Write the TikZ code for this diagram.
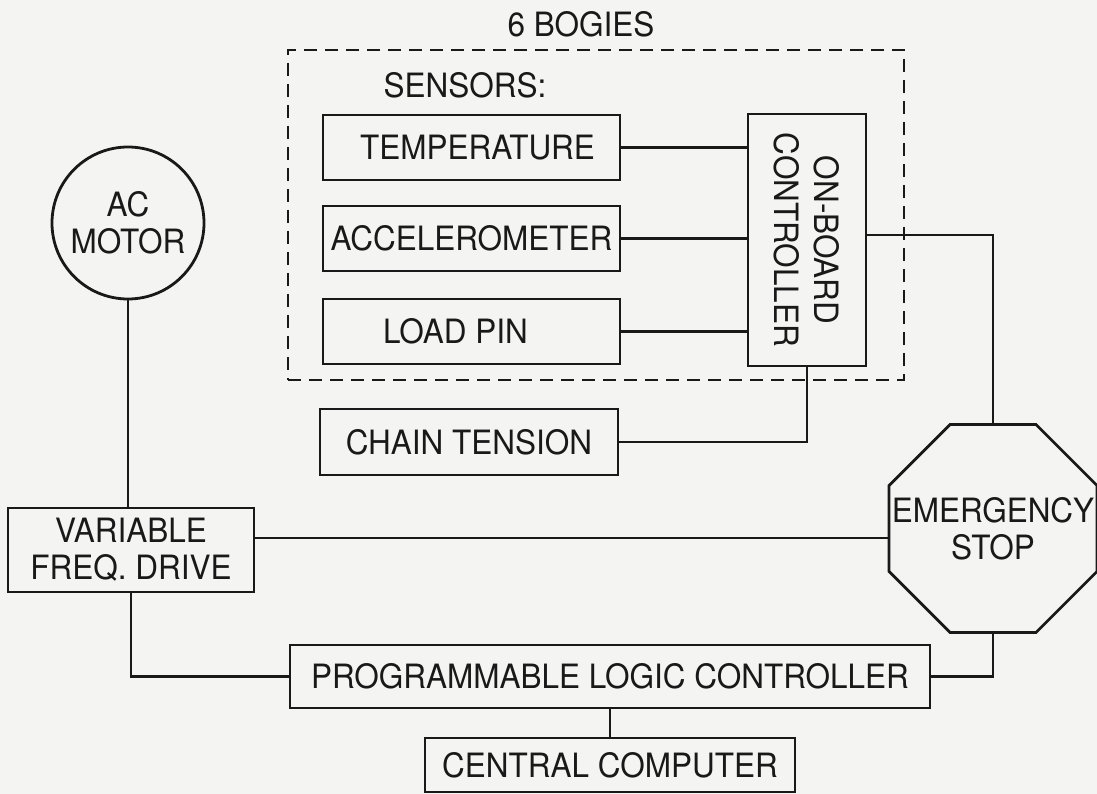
\documentclass[tikz,border=0pt]{standalone}
\usepackage{fontspec}
\setmainfont{TeX Gyre Heros}[FakeStretch=0.94]
\usetikzlibrary{shapes.geometric}
\definecolor{paper}{RGB}{244,244,242}
\definecolor{ink}{RGB}{25,25,25}
\begin{document}
\begin{tikzpicture}[x=1pt,y=-1pt,
  every node/.style={font=\fontsize{33.5}{37}\selectfont, text=ink},
  box/.style={draw=ink, line width=2.8pt, inner sep=0pt, rectangle, align=center},
  wire/.style={draw=ink, line width=2.8pt},
  groupbox/.style={draw=ink, line width=2.8pt, dash pattern=on 13pt off 8pt, inner sep=0pt, rectangle},
  octa/.style={draw=ink, line width=2.8pt, inner sep=0pt, regular polygon, regular polygon sides=8},
  motor/.style={draw=ink, line width=2.8pt, inner sep=0pt, circle, align=center},
  lbl/.style={inner sep=0pt, align=center}
]
\fill[paper] (0,0) rectangle (1097,794);
\useasboundingbox (0,0) rectangle (1097,794);

% group
\node[groupbox, minimum width=616pt, minimum height=330pt] (bogies) at (596,215) {};
\node[lbl] (bogieslbl) at (581,24) {6 BOGIES};
\node[lbl] (sensorslbl) at (465,85) {SENSORS:};

% sensors
\node[box, minimum width=297pt, minimum height=65pt] (temp) at (471.5,147.5) {\hspace*{12pt}TEMPERATURE};
\node[box, minimum width=297pt, minimum height=65pt] (acc) at (471.5,238.5) {ACCELEROMETER};
\node[box, minimum width=297pt, minimum height=65pt] (load) at (471.5,331.5) {LOAD PIN\hspace*{32pt}};
\node[box, minimum width=118pt, minimum height=252pt] (obc) at (807,240) {};
\node[lbl, rotate=-90] (obclbl) at (obc) {ON-BOARD\\[3pt]CONTROLLER};
\node[box, minimum width=298pt, minimum height=66pt] (ct) at (469,442) {CHAIN TENSION};

% left side
\node[motor, minimum size=152pt] (ac) at (128,223) {AC\\MOTOR};
\node[box, minimum width=246pt, minimum height=84pt] (vfd) at (131,550) {VARIABLE\\FREQ. DRIVE};

% emergency stop
\node[octa, minimum size=225pt] (es) at (993,528.5) {};
\node[lbl] (eslbl) at (es) {EMERGENCY\\STOP};

% bottom
\node[box, minimum width=640pt, minimum height=63pt] (plc) at (610,676.5) {PROGRAMMABLE LOGIC CONTROLLER};
\node[box, minimum width=370pt, minimum height=54pt] (cc) at (610,765) {CENTRAL COMPUTER};

% connectors
\draw[wire] (temp.east) -- (obc.west |- temp.east);
\draw[wire] (acc.east) -- (obc.west |- acc.east);
\draw[wire] (load.east) -- (obc.west |- load.east);
\draw[wire] (ct.east) -| (obc.south);
\draw[wire] (obc.east |- 0,235) -| (es.north);
\draw[wire] (ac.south) -- (ac.south |- vfd.north);
\draw[wire] (vfd.east |- 0,538) -- (es.west |- 0,538);
\draw[wire] (vfd.south) |- (plc.west);
\draw[wire] (es.south) |- (plc.east);
\draw[wire] (plc.south) -- (cc.north);
\end{tikzpicture}
\end{document}
